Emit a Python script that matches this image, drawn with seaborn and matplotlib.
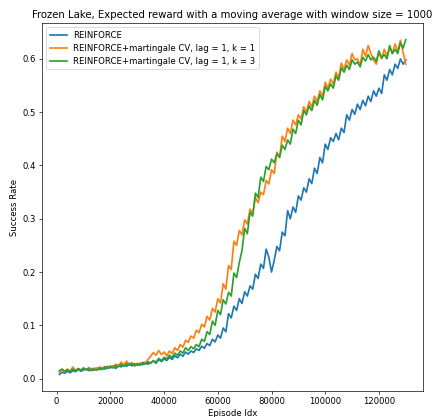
import numpy as np
import pandas as pd
import seaborn as sns
import matplotlib.pyplot as plt

# Episode index (moving average points, every 1000 episodes)
episodes = np.arange(1000, 131000, 1000)

reinforce = [
    0.008, 0.012, 0.010, 0.014, 0.011, 0.015, 0.013, 0.017, 0.014, 0.016,
    0.018, 0.015, 0.019, 0.016, 0.020, 0.017, 0.021, 0.018, 0.023, 0.020,
    0.024, 0.019, 0.026, 0.022, 0.027, 0.023, 0.029, 0.024, 0.028, 0.025,
    0.029, 0.026, 0.031, 0.027, 0.030, 0.033, 0.029, 0.036, 0.032, 0.037,
    0.034, 0.040, 0.036, 0.043, 0.039, 0.046, 0.042, 0.050, 0.046, 0.052,
    0.049, 0.056, 0.053, 0.061, 0.057, 0.066, 0.062, 0.074, 0.069, 0.082,
    0.076, 0.095, 0.088, 0.122, 0.114, 0.136, 0.128, 0.150, 0.141, 0.163,
    0.155, 0.174, 0.168, 0.196, 0.188, 0.215, 0.207, 0.243, 0.228, 0.200,
    0.222, 0.248, 0.240, 0.275, 0.268, 0.315, 0.300, 0.322, 0.312, 0.343,
    0.335, 0.358, 0.350, 0.375, 0.366, 0.395, 0.385, 0.415, 0.405, 0.440,
    0.430, 0.452, 0.445, 0.460, 0.448, 0.470, 0.462, 0.495, 0.485, 0.505,
    0.496, 0.515, 0.505, 0.522, 0.512, 0.530, 0.520, 0.540, 0.530, 0.545,
    0.535, 0.570, 0.560, 0.580, 0.570, 0.590, 0.582, 0.600, 0.590, 0.598,
]

cv_k1 = [
    0.012, 0.016, 0.013, 0.018, 0.014, 0.022, 0.015, 0.019, 0.016, 0.020,
    0.017, 0.021, 0.016, 0.020, 0.018, 0.022, 0.019, 0.023, 0.020, 0.024,
    0.022, 0.027, 0.024, 0.031, 0.026, 0.033, 0.025, 0.030, 0.024, 0.029,
    0.026, 0.031, 0.028, 0.036, 0.042, 0.049, 0.044, 0.053, 0.045, 0.050,
    0.043, 0.052, 0.047, 0.058, 0.053, 0.064, 0.059, 0.072, 0.068, 0.080,
    0.076, 0.091, 0.086, 0.102, 0.097, 0.117, 0.110, 0.132, 0.125, 0.150,
    0.142, 0.178, 0.168, 0.212, 0.205, 0.258, 0.250, 0.278, 0.270, 0.298,
    0.290, 0.318, 0.310, 0.340, 0.330, 0.350, 0.345, 0.372, 0.365, 0.392,
    0.385, 0.425, 0.415, 0.455, 0.445, 0.470, 0.460, 0.485, 0.476, 0.495,
    0.487, 0.510, 0.500, 0.520, 0.510, 0.530, 0.520, 0.540, 0.530, 0.556,
    0.545, 0.562, 0.553, 0.575, 0.565, 0.592, 0.580, 0.598, 0.588, 0.610,
    0.598, 0.600, 0.588, 0.618, 0.605, 0.625, 0.610, 0.598, 0.590, 0.612,
    0.600, 0.618, 0.605, 0.622, 0.610, 0.628, 0.615, 0.635, 0.612, 0.590,
]

cv_k3 = [
    0.015, 0.018, 0.014, 0.017, 0.013, 0.018, 0.015, 0.019, 0.016, 0.020,
    0.017, 0.019, 0.015, 0.018, 0.016, 0.020, 0.017, 0.022, 0.019, 0.023,
    0.020, 0.025, 0.022, 0.027, 0.023, 0.028, 0.025, 0.029, 0.024, 0.028,
    0.025, 0.030, 0.027, 0.032, 0.029, 0.034, 0.031, 0.038, 0.034, 0.040,
    0.037, 0.044, 0.040, 0.048, 0.044, 0.052, 0.048, 0.058, 0.053, 0.060,
    0.056, 0.064, 0.060, 0.074, 0.070, 0.088, 0.083, 0.108, 0.100, 0.128,
    0.120, 0.148, 0.140, 0.162, 0.155, 0.198, 0.190, 0.218, 0.240, 0.282,
    0.272, 0.312, 0.305, 0.348, 0.340, 0.378, 0.370, 0.398, 0.392, 0.412,
    0.405, 0.422, 0.415, 0.438, 0.430, 0.448, 0.440, 0.468, 0.460, 0.485,
    0.476, 0.503, 0.495, 0.512, 0.503, 0.522, 0.513, 0.533, 0.523, 0.548,
    0.540, 0.553, 0.545, 0.568, 0.560, 0.583, 0.575, 0.588, 0.580, 0.598,
    0.590, 0.594, 0.585, 0.603, 0.596, 0.608, 0.598, 0.603, 0.595, 0.615,
    0.602, 0.608, 0.600, 0.625, 0.610, 0.618, 0.610, 0.630, 0.620, 0.636,
]

labels = [
    "REINFORCE",
    "REINFORCE+martingale CV, lag = 1, k = 1",
    "REINFORCE+martingale CV, lag = 1, k = 3",
]

dpi = 61
fig, ax = plt.subplots(figsize=(438 / dpi, 417 / dpi), dpi=dpi)
fig.subplots_adjust(left=0.096, right=0.966, bottom=0.062, top=0.945)

for series, label in zip([reinforce, cv_k1, cv_k3], labels):
    sns.lineplot(x=episodes, y=series, label=label, ax=ax, linewidth=2)

ax.set_title("Frozen Lake, Expected reward with a moving average with window size = 1000")
ax.set_xlabel("Episode Idx")
ax.set_ylabel("Success Rate")
ax.legend(loc="upper left")

fig.savefig("out.png", dpi=dpi)
